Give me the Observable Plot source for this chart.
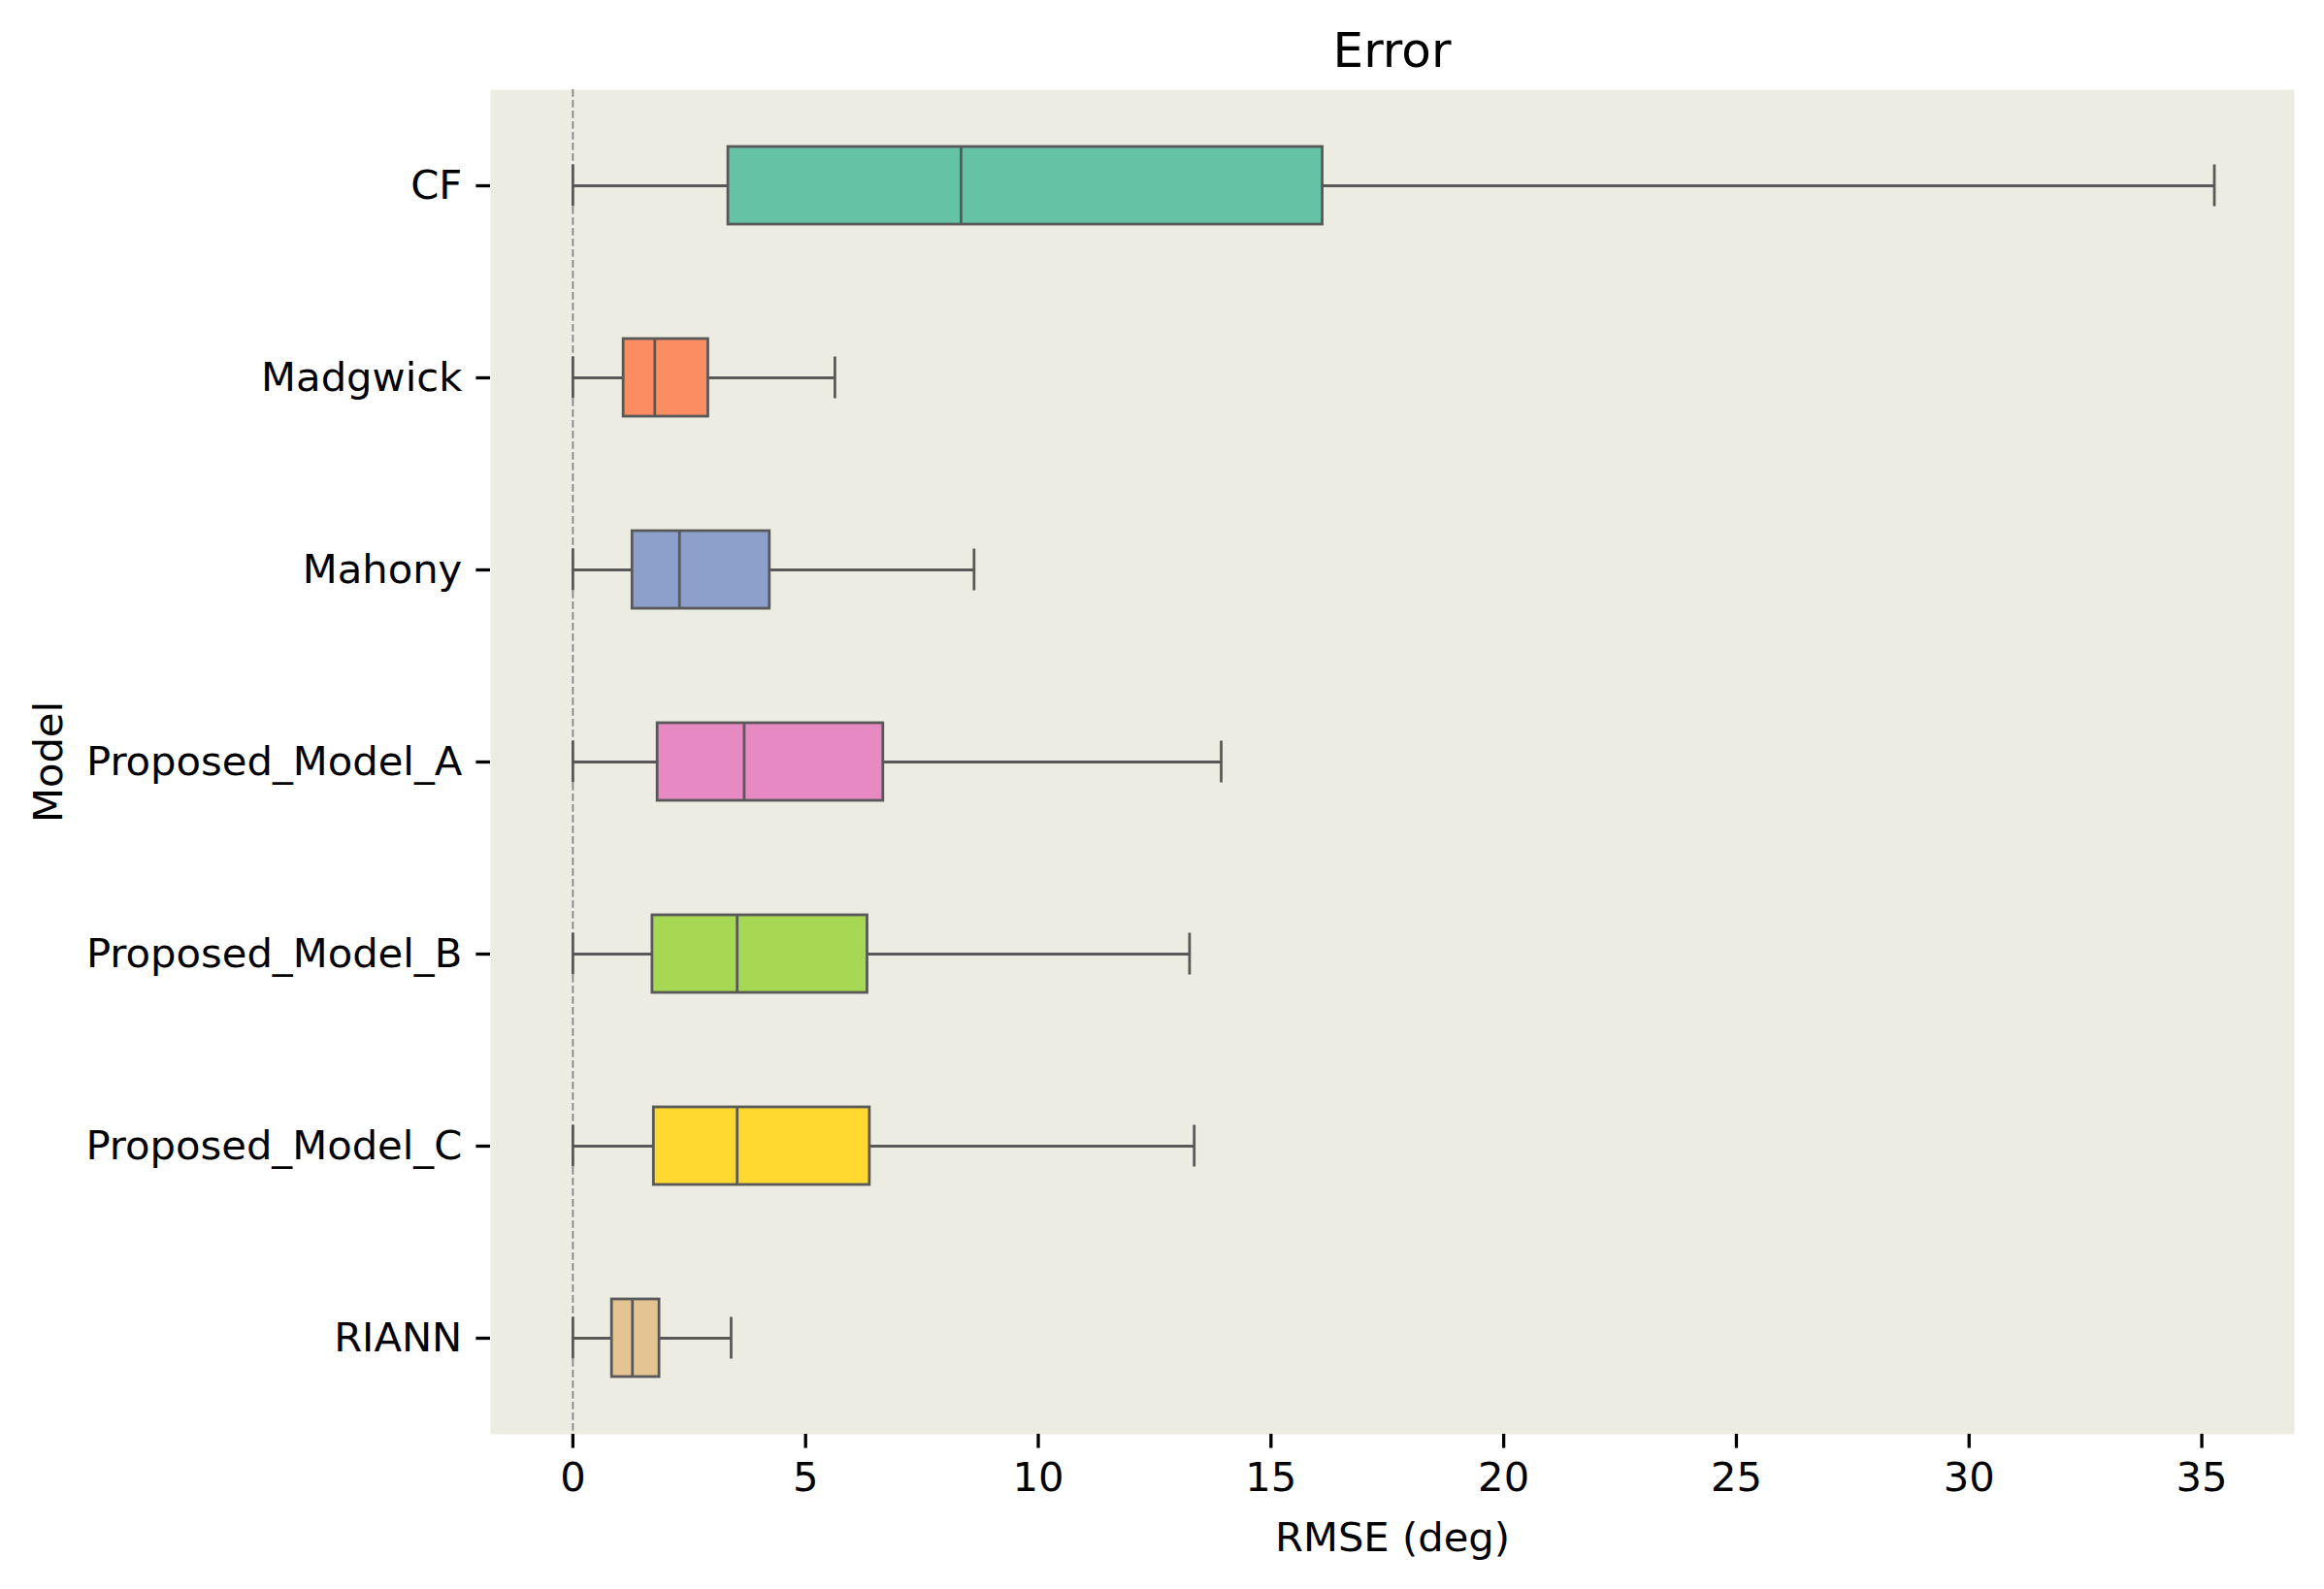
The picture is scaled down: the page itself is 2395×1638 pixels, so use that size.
<!DOCTYPE html>
<html>
<head>
<meta charset="utf-8">
<script src="https://cdn.jsdelivr.net/npm/d3@7"></script>
<script src="https://cdn.jsdelivr.net/npm/@observablehq/plot@0.6"></script>
<style>
  html, body { margin: 0; padding: 0; background: #ffffff; }
  #title {
    box-sizing: border-box;
    height: 80px;
    padding: 27px 31px 0 505px;
    font-family: "DejaVu Sans", sans-serif;
    font-size: 50px;
    line-height: 50px;
    text-align: center;
    color: #000;
  }
</style>
</head>
<body>
<div id="title">Error</div>
<div id="chart"></div>
<script>
const models = ["CF", "Madgwick", "Mahony", "Proposed_Model_A", "Proposed_Model_B", "Proposed_Model_C", "RIANN"];
const whiskerLow = [0, 0, 0, 0, 0, 0, 0];
const q1 = [3.34, 1.09, 1.28, 1.82, 1.71, 1.74, 0.84];
const medians = [8.34, 1.76, 2.29, 3.68, 3.53, 3.53, 1.28];
const q3 = [16.11, 2.91, 4.23, 6.67, 6.33, 6.38, 1.86];
const whiskerHigh = [35.27, 5.63, 8.62, 13.93, 13.25, 13.35, 3.40];
const colors = ["#66c2a5", "#fc8d62", "#8da0cb", "#e78ac3", "#a6d854", "#ffd92f", "#e5c494"];
const xTicks = [0, 5, 10, 15, 20, 25, 30, 35];

const table = models.map((m, i) => ({
  model: m, lo: whiskerLow[i], q1: q1[i], med: medians[i], q3: q3[i], hi: whiskerHigh[i], color: colors[i]
}));

const line = "#595959";
const lw = 2.8;
const fs = 41.7;
const W = 2395, H = 1558;
const bandH = (H - 12 - 160) / models.length;
const boxInset = (bandH - 80) / 2;
const capInset = (bandH - 43) / 2;

const chart = Plot.plot({
  width: W,
  height: H,
  marginLeft: 505,
  marginRight: 31,
  marginTop: 12,
  marginBottom: 160,
  style: { fontFamily: "DejaVu Sans, sans-serif", color: "#000", background: "#fff" },
  x: { domain: [-1.77, 36.99], label: null },
  y: { domain: models, padding: 0, label: null },
  color: { type: "identity" },
  marks: [
    Plot.frame({ fill: "#edece3", stroke: null }),
    Plot.ruleX([0], { stroke: "#808080", strokeWidth: 1.7, strokeDasharray: "7.7,3.3" }),
    Plot.ruleY(table, { y: "model", x1: "lo", x2: "q1", stroke: line, strokeWidth: lw }),
    Plot.ruleY(table, { y: "model", x1: "q3", x2: "hi", stroke: line, strokeWidth: lw }),
    Plot.barX(table, { y: "model", x1: "q1", x2: "q3", fill: "color", stroke: line, strokeWidth: lw, insetTop: boxInset, insetBottom: boxInset }),
    Plot.tickX(table, { x: "med", y: "model", stroke: line, strokeWidth: lw, insetTop: boxInset, insetBottom: boxInset }),
    Plot.tickX(table, { x: "lo", y: "model", stroke: line, strokeWidth: lw, insetTop: capInset, insetBottom: capInset }),
    Plot.tickX(table, { x: "hi", y: "model", stroke: line, strokeWidth: lw, insetTop: capInset, insetBottom: capInset }),
    Plot.axisX({ ticks: xTicks, tickFormat: d => String(d), tickSize: 14.6, tickPadding: 14.6, fontSize: fs, strokeWidth: 3.3, label: null }),
    Plot.axisY({ tickSize: 14.6, tickPadding: 14.6, fontSize: fs, strokeWidth: 3.3, label: null }),
    Plot.text(["RMSE (deg)"], { frameAnchor: "bottom", dy: 107, lineAnchor: "middle", textAnchor: "middle", fontSize: fs, fill: "#000" }),
    Plot.text(["Model"], { frameAnchor: "left", dx: -455, rotate: -90, lineAnchor: "middle", textAnchor: "middle", fontSize: fs, fill: "#000" })
  ]
});
document.getElementById("chart").appendChild(chart);
</script>
</body>
</html>
